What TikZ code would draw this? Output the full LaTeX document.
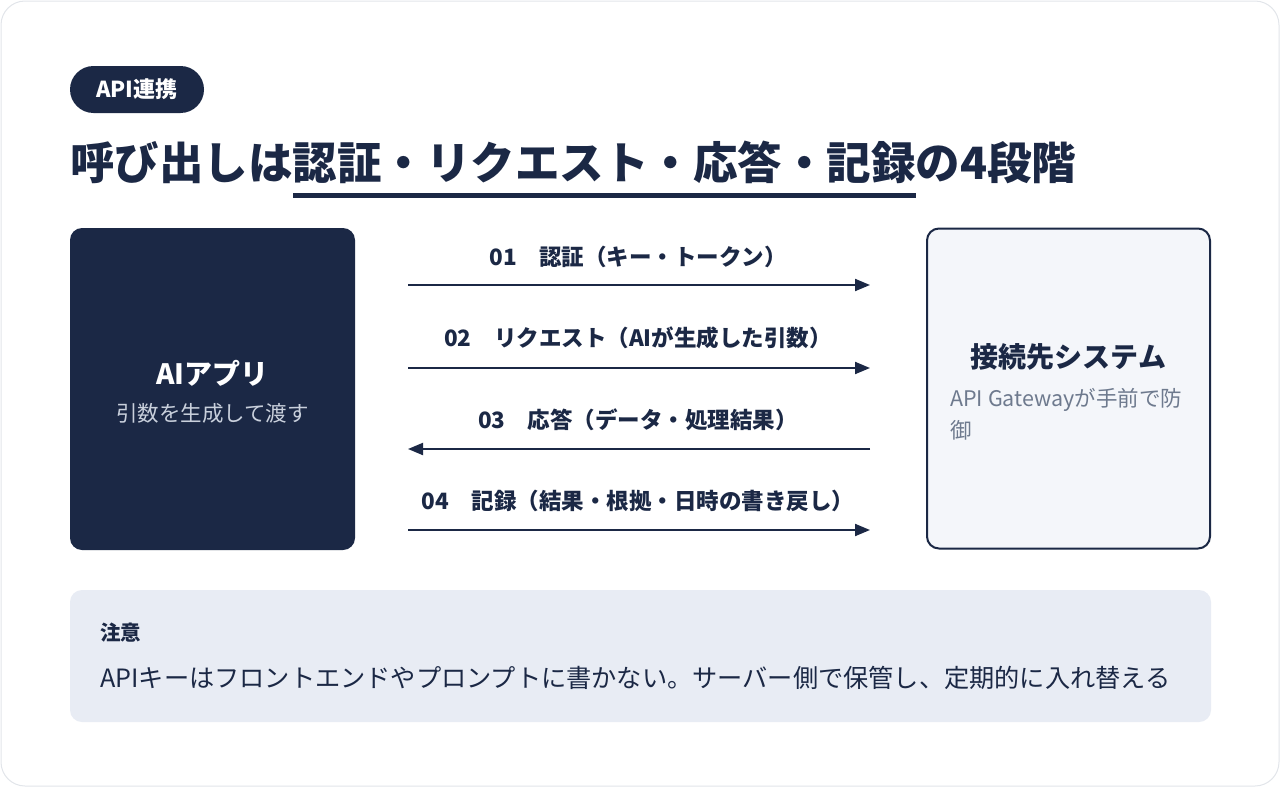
\documentclass[tikz,border=0pt]{standalone}
\usepackage{fontspec}
\setmainfont{Noto Sans CJK JP}
\usetikzlibrary{arrows.meta,positioning}
\definecolor{navy}{HTML}{1B2845}
\definecolor{framegray}{HTML}{E2E5EA}
\definecolor{softgray}{HTML}{C9D0DC}
\definecolor{midgray}{HTML}{6E7A8E}
\definecolor{panel}{HTML}{F4F6FA}
\definecolor{notefill}{HTML}{E8ECF4}
\tikzset{line/.style={draw=navy, line width=2pt, -{Triangle[length=15pt,width=12pt]}}}

\begin{document}
\begin{tikzpicture}[x=1pt,y=-1pt]
\tikzstyle{card} = [rectangle, rounded corners=12pt, minimum width=285pt, minimum height=322pt]
\tikzstyle{label} = [inner sep=0pt, text=navy, font=\bfseries\fontsize{22.5}{26}\selectfont]
\tikzstyle{heading} = [inner sep=0pt, font=\bfseries\fontsize{28}{34}\selectfont]
\tikzstyle{sub} = [inner sep=0pt, font=\fontsize{21.5}{32}\selectfont]

\useasboundingbox (0,0) rectangle (1280,787);
% frame
\draw [framegray, line width=1pt, rounded corners=24pt, fill=white] (1,1) rectangle (1279,786);

% tag and title
    \node [fill=navy, text=white, rounded corners=23.5pt, minimum width=134pt, minimum height=47pt, inner sep=0pt, font=\bfseries\fontsize{22}{26}\selectfont] (tag) at (137,89.5) {API連携};
    \node [inner sep=0pt, anchor=base west, text=navy, font=\bfseries\fontsize{44.5}{52}\selectfont] (title) at (70,179) {呼び出しは認証・リクエスト・応答・記録の4段階};
    \draw [navy, line width=5pt] (293,195.5) -- (916,195.5);

% blocks
    % app
    \node [card, fill=navy] (app) at (212.5,389) {};
    \node [heading, text=white] (app title) at (212.5,373) {AIアプリ};
    \node [sub, text=softgray] (app text) at (212.5,413) {引数を生成して渡す};
    % system
    \node [card, fill=panel, draw=navy, line width=2pt, minimum width=283pt, minimum height=320pt] (sys) at (1068.5,388.5) {};
    \node [heading, text=navy] (sys title) at (1068.5,357) {接続先システム};
    \node [sub, text=midgray, align=left, anchor=west] (sys text) at (950,414) {API Gatewayが手前で防\\御};
    % note
    \node [rectangle, rounded corners=12pt, fill=notefill, minimum width=1141pt, minimum height=132pt] (note) at (640.5,656) {};
    \node [inner sep=0pt, anchor=west, text=navy, font=\bfseries\fontsize{20.5}{24}\selectfont] (note title) at (100,633) {注意};
    \node [inner sep=0pt, anchor=west, text=navy, font=\fontsize{25.2}{30}\selectfont] (note text) at (100,678) {APIキーはフロントエンドやプロンプトに書かない。サーバー側で保管し、定期的に入れ替える};

% arrows
    \foreach \y/\n in {285/1,368/2,449/3,530/4}{
        \coordinate (left\n) at (408,\y);
        \coordinate (right\n) at (870,\y);
    }
    \node [label] (step1) at (638,257) {01　認証（キー・トークン）};
    \node [label] (step2) at (638,338) {02　リクエスト（AIが生成した引数）};
    \node [label] (step3) at (638,420) {03　応答（データ・処理結果）};
    \node [label] (step4) at (638,501) {04　記録（結果・根拠・日時の書き戻し）};
    \path [line] (left1) -- (right1);
    \path [line] (left2) -- (right2);
    \path [line] (right3) -- (left3);
    \path [line] (left4) -- (right4);
\end{tikzpicture}
\end{document}
